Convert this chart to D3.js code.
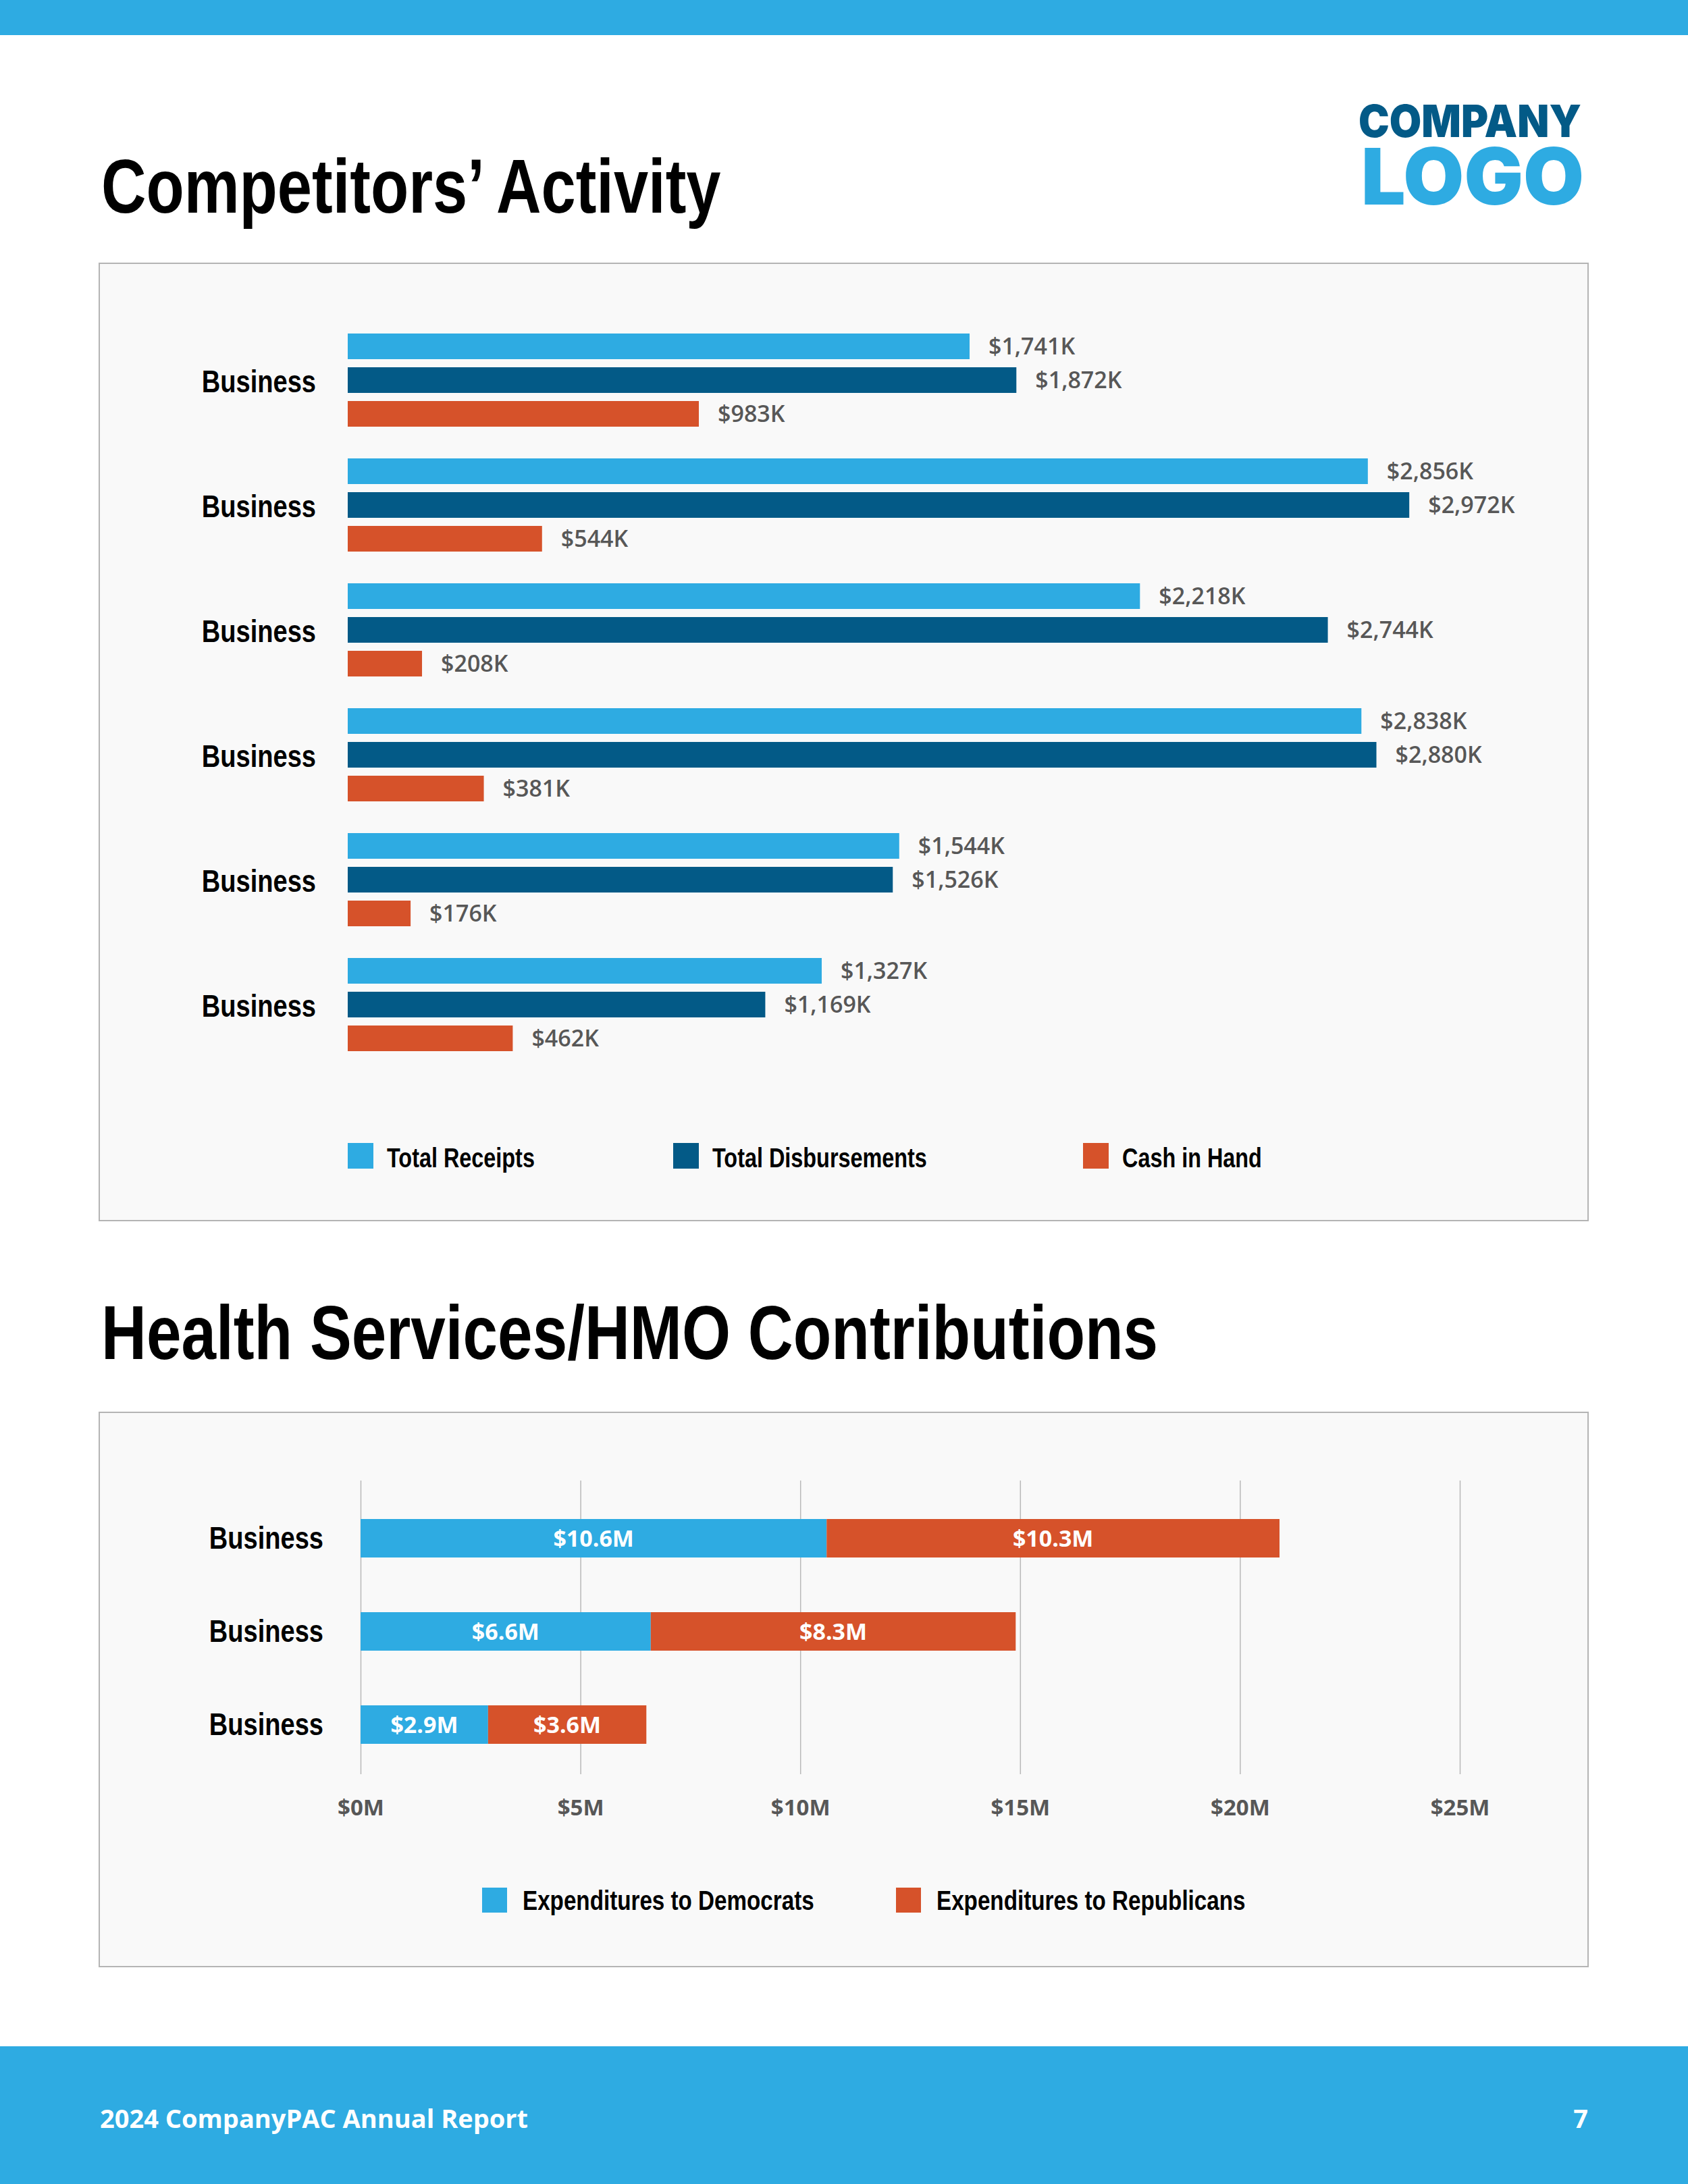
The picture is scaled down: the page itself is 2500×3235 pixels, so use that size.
<!DOCTYPE html>
<html>
<head>
<meta charset="utf-8">
<script src="https://cdn.jsdelivr.net/npm/d3@7"></script>
<style>
  body { margin: 0; background: #ffffff; }
  svg { display: block; }
</style>
</head>
<body>
<div id="page"></div>
<script>
// Competitors' Activity data (thousands of dollars)
const competitorNames = ["Business", "Business", "Business", "Business", "Business", "Business"];
const totalReceipts = [1741, 2856, 2218, 2838, 1544, 1327];
const totalDisbursements = [1872, 2972, 2744, 2880, 1526, 1169];
const cashInHand = [983, 544, 208, 381, 176, 462];
const activitySeries = ["Total Receipts", "Total Disbursements", "Cash in Hand"];

// Health Services/HMO Contributions data (millions of dollars)
const hmoNames = ["Business", "Business", "Business"];
const toDemocrats = [10.6, 6.6, 2.9];
const toRepublicans = [10.3, 8.3, 3.6];
const hmoSeries = ["Expenditures to Democrats", "Expenditures to Republicans"];
const hmoTicks = [0, 5, 10, 15, 20, 25];

const WIDTH = 2500;
const HEIGHT = 3235;

const COLORS = {
  light: "#2eabe2",
  dark: "#035a87",
  orange: "#d6522a",
  panel: "#f9f9f9",
  panelStroke: "#b4b4b4",
  label: "#575757",
};

// No narrow face installed, so squeeze Liberation Sans horizontally instead
const NARROW = "'Liberation Sans', Arial, sans-serif";
const SQUEEZE = 0.81;
const SANS = "'Open Sans', 'Noto Sans', sans-serif";

const svg = d3
  .select("#page")
  .append("svg")
  .attr("width", WIDTH)
  .attr("height", HEIGHT);

/**
 * Condensed bold text, drawn at (x, y) and squeezed horizontally
 */
function narrowText(parent, x, y, label, size, anchor, squeeze) {
  const g = parent.append("g")
    .attr("transform", `translate(${x},${y}) scale(${squeeze || SQUEEZE},1)`);
  g.append("text")
    .attr("text-anchor", anchor || "start")
    .text(label)
    .style("font-family", NARROW)
    .style("font-weight", 700)
    .style("font-size", size + "px")
    .style("fill", "#000");
  return g;
}

// Page header / footer

svg.append("rect")
  .attr("x", 0).attr("y", 0)
  .attr("width", WIDTH).attr("height", 52)
  .style("fill", COLORS.light);

svg.append("rect")
  .attr("x", 0).attr("y", 3031)
  .attr("width", WIDTH).attr("height", HEIGHT - 3031)
  .style("fill", COLORS.light);

svg.append("text")
  .attr("x", 148).attr("y", 3152)
  .text("2024 CompanyPAC Annual Report")
  .style("font-family", SANS)
  .style("font-weight", 700)
  .style("font-size", "38px")
  .style("fill", "white");

svg.append("text")
  .attr("x", 2352).attr("y", 3152)
  .attr("text-anchor", "end")
  .text("7")
  .style("font-family", SANS)
  .style("font-weight", 700)
  .style("font-size", "38px")
  .style("fill", "white");

// Logo
svg.append("text")
  .attr("x", 2012).attr("y", 203)
  .attr("textLength", 330)
  .attr("lengthAdjust", "spacingAndGlyphs")
  .text("COMPANY")
  .style("font-family", "Inter, Lato, sans-serif")
  .style("font-weight", 900)
  .style("font-size", "66px")
  .style("fill", COLORS.dark);

svg.append("text")
  .attr("x", 2016).attr("y", 303)
  .attr("textLength", 330)
  .attr("lengthAdjust", "spacingAndGlyphs")
  .text("LOGO")
  .style("font-family", "Inter, Lato, sans-serif")
  .style("font-weight", 900)
  .style("font-size", "116px")
  .style("fill", COLORS.light);

// Section titles
narrowText(svg, 150, 315, "Competitors\u2019 Activity", 113, "start", 0.815);
narrowText(svg, 150, 2013, "Health Services/HMO Contributions", 113, "start", 0.82);

function addPanel(y0, y1) {
  svg.append("rect")
    .attr("x", 147).attr("y", y0)
    .attr("width", 2352 - 147).attr("height", y1 - y0)
    .style("fill", COLORS.panel)
    .style("stroke", COLORS.panelStroke)
    .style("stroke-width", 2);
}

/**
 * Grouped bar chart: Competitors' Activity
 */
function drawActivity() {
  addPanel(390, 1808);

  const rows = competitorNames.map((name, i) => ({
    name: name,
    values: [totalReceipts[i], totalDisbursements[i], cashInHand[i]],
  }));
  const colors = [COLORS.light, COLORS.dark, COLORS.orange];

  const xScaler = d3.scaleLinear([0, 3000], [515, 2102]);
  const yGroup = d3
    .scaleBand()
    .domain(d3.range(rows.length))
    .range([494, 494 + 185 * 5 + 138])
    .paddingInner(47 / 185)
    .paddingOuter(0);
  const yBar = d3
    .scaleBand()
    .domain(d3.range(activitySeries.length))
    .range([0, yGroup.bandwidth()])
    .paddingInner(0.24)
    .paddingOuter(0);

  const groups = svg.append("g")
    .selectAll("g")
    .data(rows)
    .enter()
    .append("g")
    .attr("transform", (d, i) => `translate(0,${yGroup(i)})`);

  groups.each(function (d) {
    narrowText(d3.select(this), 468, yGroup.bandwidth() / 2 + 18, d.name, 47, "end");
  });

  const bars = groups.selectAll(".bar")
    .data((d) => d.values.map((v, j) => ({ v: v, j: j })))
    .enter();

  bars.append("rect")
    .attr("class", "bar")
    .attr("x", xScaler(0))
    .attr("y", (d) => yBar(d.j))
    .attr("width", (d) => xScaler(d.v) - xScaler(0))
    .attr("height", yBar.bandwidth())
    .style("fill", (d) => colors[d.j]);

  bars.append("text")
    .attr("x", (d) => xScaler(d.v) + 28)
    .attr("y", (d) => yBar(d.j) + yBar.bandwidth() / 2)
    .attr("dy", "0.36em")
    .text((d) => "$" + d3.format(",")(d.v) + "K")
    .style("font-family", SANS)
    .style("font-weight", 600)
    .style("font-size", "34px")
    .style("fill", COLORS.label);

  // Legend
  const legendX = [515, 997, 1604];
  const legend = svg.append("g")
    .selectAll("g")
    .data(activitySeries)
    .enter()
    .append("g")
    .attr("transform", (d, i) => `translate(${legendX[i]},1693)`);

  legend.append("rect")
    .attr("width", 38).attr("height", 38)
    .style("fill", (d, i) => colors[i]);

  legend.each(function (d) {
    narrowText(d3.select(this), 58, 36, d, 40);
  });
}

/**
 * Stacked bar chart: Health Services/HMO Contributions
 */
function drawHmo() {
  addPanel(2092, 2913);

  const rows = hmoNames.map((name, i) => ({
    name: name,
    dem: toDemocrats[i],
    rep: toRepublicans[i],
  }));

  const xScaler = d3.scaleLinear([0, 25], [534, 2162]);
  const yScaler = d3
    .scaleBand()
    .domain(d3.range(rows.length))
    .range([2250, 2583])
    .paddingInner(81 / 138)
    .paddingOuter(0);

  // grid
  const xAxis = svg.append("g")
    .attr("transform", "translate(0,2628)")
    .call(
      d3.axisBottom(xScaler)
        .tickValues(hmoTicks)
        .tickSize(-(2628 - 2193))
        .tickPadding(38)
        .tickFormat((d) => "$" + d + "M")
    );
  xAxis.select(".domain").remove();
  xAxis.selectAll(".tick line")
    .style("stroke", "#b9b9b9")
    .style("stroke-width", 1.5);
  xAxis.selectAll(".tick text")
    .style("font-family", SANS)
    .style("font-weight", 700)
    .style("font-size", "33px")
    .style("fill", COLORS.label);

  const rowG = svg.append("g")
    .selectAll("g")
    .data(rows)
    .enter()
    .append("g")
    .attr("transform", (d, i) => `translate(0,${yScaler(i)})`);

  rowG.each(function (d) {
    narrowText(d3.select(this), 479, yScaler.bandwidth() / 2 + 15, d.name, 47, "end");
  });

  const segments = (d) => [
    { x0: 0, x1: d.dem, v: d.dem, c: COLORS.light },
    { x0: d.dem, x1: d.dem + d.rep, v: d.rep, c: COLORS.orange },
  ];

  const seg = rowG.selectAll(".seg")
    .data(segments)
    .enter();

  seg.append("rect")
    .attr("class", "seg")
    .attr("x", (d) => xScaler(d.x0))
    .attr("y", 0)
    .attr("width", (d) => xScaler(d.x1) - xScaler(d.x0))
    .attr("height", yScaler.bandwidth())
    .style("fill", (d) => d.c);

  seg.append("text")
    .attr("x", (d) => (xScaler(d.x0) + xScaler(d.x1)) / 2)
    .attr("y", yScaler.bandwidth() / 2)
    .attr("dy", "0.36em")
    .attr("text-anchor", "middle")
    .text((d) => "$" + d3.format(".1f")(d.v) + "M")
    .style("font-family", SANS)
    .style("font-weight", 700)
    .style("font-size", "34px")
    .style("fill", "white");

  // Legend
  const legendX = [714, 1327];
  const legendColors = [COLORS.light, COLORS.orange];
  const legend = svg.append("g")
    .selectAll("g")
    .data(hmoSeries)
    .enter()
    .append("g")
    .attr("transform", (d, i) => `translate(${legendX[i]},2796)`);

  legend.append("rect")
    .attr("width", 37).attr("height", 37)
    .style("fill", (d, i) => legendColors[i]);

  legend.each(function (d) {
    narrowText(d3.select(this), 60, 33, d, 41);
  });
}

drawActivity();
drawHmo();
</script>
</body>
</html>
